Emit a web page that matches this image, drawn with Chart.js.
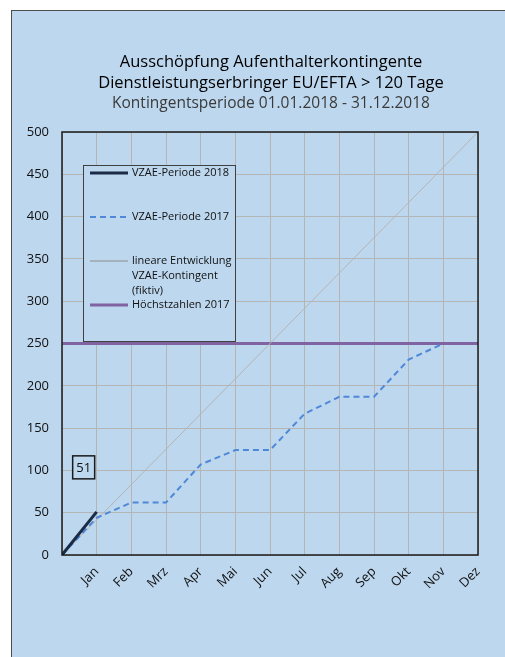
<!DOCTYPE html>
<html>
<head>
<meta charset="utf-8">
<script src="https://cdn.jsdelivr.net/npm/chart.js@4"></script>
<style>
  html, body { margin: 0; padding: 0; background: #fff; }
  #frame {
    position: absolute; left: 11px; top: 10px; width: 494px; height: 647px;
    background: #bdd7ee; border-left: 1px solid #4d4d4d; border-top: 1px solid #4d4d4d;
    box-sizing: border-box;
  }
  #wrap { position: absolute; left: 0; top: 0; width: 493px; height: 646px; }
</style>
</head>
<body>
<div id="frame"><div id="wrap"><canvas id="chart"></canvas></div></div>
<script>
// === Daten ===
const months = ['Jan', 'Feb', 'Mrz', 'Apr', 'Mai', 'Jun', 'Jul', 'Aug', 'Sep', 'Okt', 'Nov', 'Dez'];
const vzae2018 = [0, 51];
const vzae2017 = [0, 44, 62, 62, 107, 124, 124, 167, 187, 187, 231, 250];
const linearX = [0, 12];
const linearY = [0, 500];
const hoechstX = [0, 12];
const hoechstY = [250, 250];

const titleLines = ['Ausschöpfung Aufenthalterkontingente', 'Dienstleistungserbringer EU/EFTA > 120 Tage'];
const subTitle = 'Kontingentsperiode 01.01.2018 - 31.12.2018';
const legendLabels = {
  v2018: 'VZAE-Periode 2018',
  v2017: 'VZAE-Periode 2017',
  lin: ['lineare Entwicklung', 'VZAE-Kontingent', '(fiktiv)'],
  hz: 'Höchstzahlen 2017'
};

const FONT = '"Open Sans", "Noto Sans", sans-serif';
const toPts = (ys, xs) => ys.map((y, i) => ({ x: xs ? xs[i] : i, y }));

// === Plugin: Titel, Rahmen, Legende, Datenlabel ===
const decorPlugin = {
  id: 'decor',
  afterDraw(chart) {
    const { ctx, chartArea: a, scales } = chart;
    ctx.save();
    // Titel
    const cx = 259;
    ctx.textAlign = 'center';
    ctx.textBaseline = 'alphabetic';
    ctx.fillStyle = '#000';
    ctx.font = '16.5px ' + FONT;
    ctx.fillText(titleLines[0], cx, 56);
    ctx.fillText(titleLines[1], cx, 77);
    ctx.fillStyle = '#3a3a3a';
    ctx.font = '15.5px ' + FONT;
    ctx.fillText(subTitle, cx, 97);

    // Rahmen Plotbereich
    ctx.strokeStyle = '#1a1a1a';
    ctx.lineWidth = 1.5;
    ctx.strokeRect(a.left, a.top, a.right - a.left, a.bottom - a.top);

    // Legende
    const lx = a.left + 21, ly = a.top + 33, lw = 152, lh = 176;
    ctx.fillStyle = '#bdd7ee';
    ctx.fillRect(lx, ly, lw, lh);
    ctx.strokeStyle = '#404040';
    ctx.lineWidth = 1;
    ctx.strokeRect(lx + 0.5, ly + 0.5, lw, lh);
    const ds = chart.data.datasets;
    const items = [
      { d: ds[0], y: ly + 8, text: [legendLabels.v2018], c: ds[0].borderColor },
      { d: ds[1], y: ly + 52, text: [legendLabels.v2017], c: ds[1].borderColor },
      { d: ds[2], y: ly + 96, text: legendLabels.lin, c: '#8c8c8c' },
      { d: ds[3], y: ly + 140, text: [legendLabels.hz], c: ds[3].borderColor }
    ];
    ctx.font = '11px ' + FONT;
    ctx.textAlign = 'left';
    ctx.textBaseline = 'middle';
    items.forEach(it => {
      ctx.beginPath();
      ctx.strokeStyle = it.c;
      ctx.lineWidth = it.d.borderWidth;
      ctx.setLineDash(it.d.borderDash || []);
      ctx.moveTo(lx + 7, it.y);
      ctx.lineTo(lx + 45, it.y);
      ctx.stroke();
      ctx.setLineDash([]);
      ctx.fillStyle = '#111';
      it.text.forEach((t, k) => ctx.fillText(t, lx + 49, it.y + k * 15));
    });

    // Datenlabel letzter Wert 2018
    const last = vzae2018.length - 1;
    const px = scales.x.getPixelForValue(last);
    const py = scales.y.getPixelForValue(vzae2018[last]);
    const bx = px - 24, by = py - 56, bw = 22, bh = 23;
    ctx.fillStyle = '#bdd7ee';
    ctx.fillRect(bx, by, bw, bh);
    ctx.strokeStyle = '#1a1a1a';
    ctx.lineWidth = 1.5;
    ctx.strokeRect(bx, by, bw, bh);
    ctx.fillStyle = '#111';
    ctx.font = '13px ' + FONT;
    ctx.textAlign = 'center';
    ctx.fillText(String(vzae2018[last]), bx + bw / 2, by + bh / 2 + 1);
    ctx.restore();
  }
};

new Chart(document.getElementById('chart'), {
  type: 'line',
  data: {
    datasets: [
      { label: legendLabels.v2018, data: toPts(vzae2018), borderColor: '#1b2a47', borderWidth: 3 },
      { label: legendLabels.v2017, data: toPts(vzae2017), borderColor: '#4f88d8', borderWidth: 2, borderDash: [6, 4] },
      { label: legendLabels.lin.join(' '), data: toPts(linearY, linearX), borderColor: '#b4b4b4', borderWidth: 1 },
      { label: legendLabels.hz, data: toPts(hoechstY, hoechstX), borderColor: '#8064a2', borderWidth: 3 }
    ]
  },
  options: {
    responsive: true,
    maintainAspectRatio: false,
    animation: false,
    layout: { padding: { top: 121, right: 27, left: 0, bottom: 0 } },
    elements: { point: { radius: 0 }, line: { tension: 0 } },
    plugins: { legend: { display: false }, tooltip: { enabled: false } },
    scales: {
      x: {
        type: 'linear', min: 0, max: 12,
        afterFit(s) { s.height = 102; },
        grid: { color: '#b5b5b5', lineWidth: 1, drawTicks: false },
        border: { display: false },
        ticks: {
          stepSize: 1, autoSkip: false, maxRotation: 45, minRotation: 45, padding: 9,
          color: '#111', font: { family: FONT, size: 13 },
          callback: v => (v >= 1 ? months[v - 1] : '')
        }
      },
      y: {
        min: 0, max: 500,
        afterFit(s) { s.width = 50; },
        grid: { color: '#b5b5b5', lineWidth: 1, drawTicks: false },
        border: { display: false },
        ticks: { stepSize: 50, padding: 13, color: '#111', font: { family: FONT, size: 13 } }
      }
    }
  },
  plugins: [decorPlugin]
});
</script>
</body>
</html>
